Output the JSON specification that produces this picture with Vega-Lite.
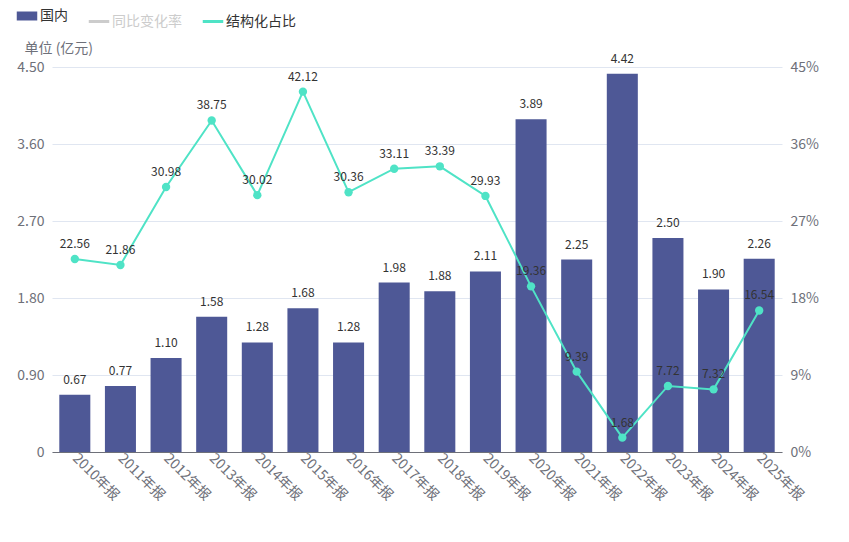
{
  "$schema": "https://vega.github.io/schema/vega-lite/v6.json",
  "autosize": {"type": "none"},
  "width": 730,
  "height": 385,
  "padding": {"left": 52, "top": 67, "right": 67, "bottom": 90},
  "background": "#ffffff",
  "config": {
    "font": "Noto Sans CJK SC",
    "view": {"stroke": null}
  },
  "data": {"values": [
    {"period": "2010年报", "domestic": 0.67, "ratio": 22.56},
    {"period": "2011年报", "domestic": 0.77, "ratio": 21.86},
    {"period": "2012年报", "domestic": 1.10, "ratio": 30.98},
    {"period": "2013年报", "domestic": 1.58, "ratio": 38.75},
    {"period": "2014年报", "domestic": 1.28, "ratio": 30.02},
    {"period": "2015年报", "domestic": 1.68, "ratio": 42.12},
    {"period": "2016年报", "domestic": 1.28, "ratio": 30.36},
    {"period": "2017年报", "domestic": 1.98, "ratio": 33.11},
    {"period": "2018年报", "domestic": 1.88, "ratio": 33.39},
    {"period": "2019年报", "domestic": 2.11, "ratio": 29.93},
    {"period": "2020年报", "domestic": 3.89, "ratio": 19.36},
    {"period": "2021年报", "domestic": 2.25, "ratio": 9.39},
    {"period": "2022年报", "domestic": 4.42, "ratio": 1.68},
    {"period": "2023年报", "domestic": 2.50, "ratio": 7.72},
    {"period": "2024年报", "domestic": 1.90, "ratio": 7.32},
    {"period": "2025年报", "domestic": 2.26, "ratio": 16.54}
  ]},
  "encoding": {
    "x": {
      "field": "period", "type": "nominal", "sort": null,
      "scale": {"paddingInner": 0.32, "paddingOuter": 0.16},
      "axis": {
        "title": null, "labelAngle": 45, "labelAlign": "left", "labelBaseline": "middle",
        "labelFontSize": 14, "labelColor": "#6e7079", "labelPadding": 4,
        "ticks": false, "domainColor": "#6e7079", "domainWidth": 1, "grid": false
      }
    }
  },
  "layer": [
    {
      "mark": {"type": "bar", "color": "#4e5896"},
      "encoding": {
        "y": {
          "field": "domestic", "type": "quantitative",
          "scale": {"domain": [0, 4.5]},
          "axis": {
            "title": "单位 (亿元)", "titleAngle": 0, "titleAlign": "left", "titleBaseline": "bottom",
            "titleX": -28, "titleY": -12, "titleFontSize": 14, "titleFontWeight": "normal", "titleColor": "#6e7079",
            "values": [0, 0.9, 1.8, 2.7, 3.6, 4.5], "labelExpr": "datum.value === 0 ? '0' : format(datum.value, '.2f')",
            "labelFontSize": 14, "labelColor": "#6e7079", "labelPadding": 8,
            "ticks": false, "domain": false, "gridColor": "#e0e6f1"
          }
        },
        "color": {
          "datum": "国内", "type": "nominal",
          "scale": {"domain": ["国内", "同比变化率", "结构化占比"], "range": ["#4e5896", "#cccccc", "#4fe3c6"]},
          "legend": {
            "title": null, "orient": "none", "direction": "horizontal",
            "legendX": -32, "legendY": -58,
            "symbolType": "stroke", "symbolSize": 420, "symbolStrokeWidth": 3,
            "labelFontSize": 14, "labelColor": "#333333", "columnPadding": 14, "labelOffset": 6,
            "encode": {
              "symbols": {"update": {
                "strokeWidth": {"signal": "datum.label === '国内' ? 9 : 3"}
              }},
              "labels": {"update": {
                "fill": {"signal": "datum.label === '同比变化率' ? '#cccccc' : '#333333'"}
              }}
            }
          }
        }
      }
    },
    {
      "mark": {"type": "text", "dy": -8, "baseline": "bottom", "fontSize": 12, "color": "#333333"},
      "encoding": {
        "y": {"field": "domestic", "type": "quantitative", "scale": {"domain": [0, 4.5]}, "axis": null},
        "text": {"field": "domestic", "type": "quantitative", "format": ".2f"}
      }
    },
    {
      "mark": {"type": "line", "strokeWidth": 2, "color": "#4fe3c6", "point": {"filled": true, "size": 70, "color": "#4fe3c6"}},
      "encoding": {
        "y": {
          "field": "ratio", "type": "quantitative",
          "scale": {"domain": [0, 45]},
          "axis": {
            "orient": "right", "title": null,
            "values": [0, 9, 18, 27, 36, 45], "labelExpr": "datum.value + '%'",
            "labelFontSize": 14, "labelColor": "#6e7079", "labelPadding": 8,
            "ticks": false, "domain": false, "grid": false
          }
        },
        "color": {"datum": "结构化占比", "type": "nominal"}
      }
    },
    {
      "mark": {"type": "text", "dy": -8, "baseline": "bottom", "fontSize": 12, "color": "#333333"},
      "encoding": {
        "y": {"field": "ratio", "type": "quantitative", "scale": {"domain": [0, 45]}, "axis": null},
        "text": {"field": "ratio", "type": "quantitative", "format": ".2f"}
      }
    }
  ],
  "resolve": {"scale": {"y": "independent"}}
}
